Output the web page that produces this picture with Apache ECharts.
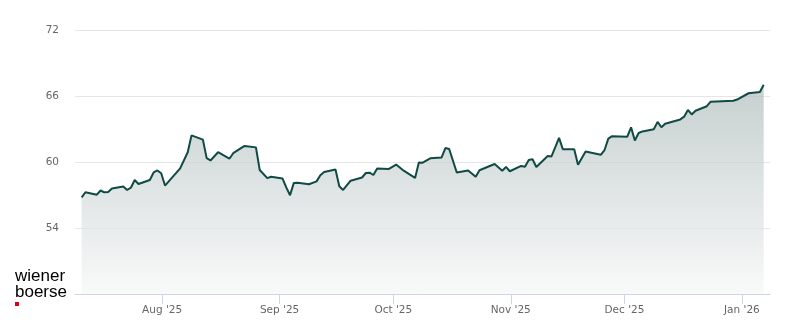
<!DOCTYPE html>
<html>
<head>
<meta charset="utf-8">
<script src="https://cdn.jsdelivr.net/npm/echarts@6/dist/echarts.min.js"></script>
<style>
html,body{margin:0;padding:0;background:#ffffff;}
#chart{width:800px;height:324px;}
</style>
</head>
<body>
<div id="chart"></div>
<script>
// ---- data ----
const dates = [
  '2025-07-10','2025-07-11','2025-07-14','2025-07-15','2025-07-16','2025-07-17','2025-07-18',
  '2025-07-21','2025-07-22','2025-07-23','2025-07-24','2025-07-25','2025-07-28','2025-07-29',
  '2025-07-30','2025-07-31','2025-08-01','2025-08-05','2025-08-07','2025-08-08','2025-08-11',
  '2025-08-12','2025-08-13','2025-08-15','2025-08-18','2025-08-19','2025-08-22','2025-08-25',
  '2025-08-26','2025-08-28','2025-08-29','2025-09-01','2025-09-02','2025-09-03','2025-09-04',
  '2025-09-05','2025-09-08','2025-09-10','2025-09-11','2025-09-12','2025-09-15','2025-09-16',
  '2025-09-17','2025-09-19','2025-09-22','2025-09-23','2025-09-24','2025-09-25','2025-09-26',
  '2025-09-29','2025-10-01','2025-10-03','2025-10-06','2025-10-07','2025-10-08','2025-10-10',
  '2025-10-13','2025-10-14','2025-10-15','2025-10-17','2025-10-20','2025-10-22','2025-10-23',
  '2025-10-27','2025-10-29','2025-10-30','2025-10-31','2025-11-03','2025-11-04','2025-11-05',
  '2025-11-06','2025-11-07','2025-11-10','2025-11-11','2025-11-13','2025-11-14','2025-11-17',
  '2025-11-18','2025-11-20','2025-11-24','2025-11-25','2025-11-26','2025-11-27','2025-12-01',
  '2025-12-02','2025-12-03','2025-12-04','2025-12-05','2025-12-08','2025-12-09','2025-12-10',
  '2025-12-11','2025-12-15','2025-12-16','2025-12-17','2025-12-18','2025-12-19','2025-12-22',
  '2025-12-23','2025-12-29','2025-12-30','2026-01-02','2026-01-05','2026-01-06'
];
const prices = [
  56.78,57.25,57.03,57.41,57.24,57.28,57.60,
  57.77,57.46,57.66,58.36,58.00,58.36,59.05,
  59.23,58.98,57.86,59.42,60.89,62.42,62.03,
  60.35,60.14,60.89,60.30,60.80,61.46,61.33,
  59.27,58.53,58.66,58.51,57.69,56.98,58.10,
  58.12,57.98,58.24,58.80,59.10,59.32,57.80,
  57.46,58.30,58.59,59.00,59.03,58.82,59.41,
  59.36,59.77,59.21,58.55,59.96,59.94,60.33,
  60.41,61.27,61.18,59.05,59.23,58.66,59.25,
  59.82,59.21,59.55,59.16,59.64,59.57,60.18,
  60.25,59.55,60.55,60.51,62.19,61.16,61.16,
  59.74,60.96,60.65,61.09,62.12,62.35,62.30,
  63.15,61.96,62.64,62.78,62.98,63.65,63.16,
  63.48,63.87,64.12,64.73,64.32,64.66,65.07,
  65.48,65.57,65.68,66.25,66.36,67.03
];
const xTickDates = ['2025-08-01','2025-09-01','2025-10-01','2025-11-01','2025-12-01','2026-01-01'];
const monthNames = ['Jan','Feb','Mar','Apr','May','Jun','Jul','Aug','Sep','Oct','Nov','Dec'];
const yMin = 48, yMax = 72, yStep = 6;
const xStart = '2025-07-09T00:00:00';
const xEnd = '2026-01-08T10:00:00';
const closeTime = 'T18:00:00';

// ---- build ----
const toTs = s => new Date(s).getTime();
const seriesData = dates.map((d, i) => [toTs(d + closeTime), prices[i]]);
const tickValues = xTickDates.map(d => toTs(d + 'T00:00:00'));
const monthLabel = v => {
  const d = new Date(v);
  return monthNames[d.getMonth()] + " '" + String(d.getFullYear()).slice(2);
};

function buildOption(mode) {
  const axisTick = {show: true, length: 10, lineStyle: {color: '#ccd6eb', width: 1}};
  const axisLabel = {
    color: '#666666', fontFamily: 'DejaVu Sans', fontSize: 10.5, margin: 11,
    showMinLabel: false, showMaxLabel: false,
    formatter: monthLabel
  };
  if (mode >= 1) axisTick.customValues = tickValues;
  return {
    animation: false,
    backgroundColor: '#ffffff',
    grid: {left: 75, right: 30, top: 30, bottom: 30},
    xAxis: {
      type: 'time',
      min: toTs(xStart),
      max: toTs(xEnd),
      axisLine: {show: true, lineStyle: {color: '#ccd6eb', width: 1}},
      axisTick: axisTick,
      axisLabel: axisLabel,
      splitLine: {show: false}
    },
    yAxis: {
      type: 'value',
      min: yMin, max: yMax, interval: yStep,
      axisLine: {show: false},
      axisTick: {show: false},
      axisLabel: {showMinLabel: false, color: '#666666', fontFamily: 'DejaVu Sans', fontSize: 10.5, margin: 16},
      splitLine: {show: true, lineStyle: {color: '#e6e6e6', width: 1}}
    },
    series: [{
      type: 'line',
      data: seriesData,
      symbol: 'none',
      lineStyle: {color: '#0f4a44', width: 2},
      areaStyle: {
        color: new echarts.graphic.LinearGradient(0, 0, 0, 1, [
          {offset: 0, color: '#aebcbb'},
          {offset: 1, color: '#f6f7f7'}
        ])
      }
    }],
    graphic: [
      {type: 'text', left: 15, top: 268, style: {text: 'wiener', fill: '#000000', font: '17px "Liberation Sans", Arial, sans-serif'}},
      {type: 'text', left: 15, top: 284, style: {text: 'boerse', fill: '#000000', font: '17px "Liberation Sans", Arial, sans-serif'}},
      {type: 'rect', shape: {x: 15, y: 302, width: 4, height: 4}, style: {fill: '#d7001d'}}
    ]
  };
}

const el = document.getElementById('chart');
let done = false;
for (const mode of [1, 0]) {
  if (done) break;
  const chart = echarts.init(el, null, {renderer: 'canvas'});
  try {
    chart.setOption(buildOption(mode));
    done = true;
  } catch (e) {
    chart.dispose();
    el.innerHTML = '';
  }
}
</script>
</body>
</html>
